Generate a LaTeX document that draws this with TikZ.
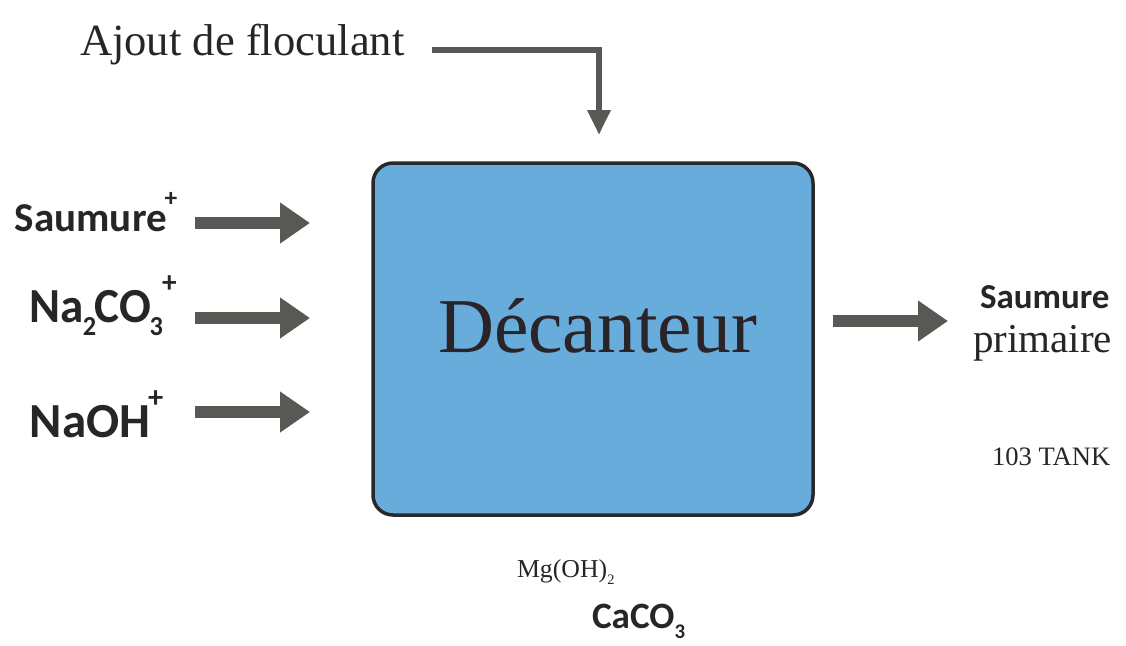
\documentclass[tikz,border=0pt]{standalone}
\usepackage{fontspec}
\setmainfont{Liberation Serif}
\newfontfamily\lblsans{Carlito}
\usetikzlibrary{arrows.meta}
\definecolor{arrowgray}{RGB}{88,88,84}
\definecolor{boxblue}{RGB}{104,172,220}
\definecolor{boxedge}{RGB}{40,40,40}
\definecolor{txt}{RGB}{38,38,38}
\definecolor{dectxt}{RGB}{42,36,40}
\tikzset{
  lbl/.style={anchor=base west, inner sep=0pt, outer sep=0pt, text=txt},
  bigarrow/.style={draw=arrowgray, line width=6pt, -{Triangle[length=15pt,width=19.5pt]}, arrowgray},
  thinarrow/.style={draw=arrowgray, line width=3.25pt, -{Triangle[length=12.5pt,width=11pt]}, arrowgray},
  tankbox/.style={draw=boxedge, line width=1.75pt, fill=boxblue, rounded corners=10pt, inner sep=0pt}
}
\newcommand{\chemsup}[1]{\raisebox{0.6em}{\fontsize{0.62em}{0.62em}\selectfont #1}}
\newcommand{\chemsub}[1]{\raisebox{-0.28em}{\fontsize{0.56em}{0.56em}\selectfont #1}}
\begin{document}
\begin{tikzpicture}[x=0.5pt,y=-0.5pt]
\useasboundingbox (0,0) rectangle (1126,645);
% main box
\node[tankbox, minimum width=220pt, minimum height=176pt] (box) at (593,339) {};
\node[lbl, text=dectxt] (dec) at (438,352) {\fontsize{38.8pt}{40pt}\selectfont Décanteur};
% top input
\node[lbl] (floc) at (80,55) {\fontsize{22.3pt}{24pt}\selectfont Ajout de floculant};
\coordinate (f0) at (432,50);
\coordinate (f1) at (599,50);
\coordinate (f2) at (599,135);
\draw[thinarrow] (f0) -- (f1) -- (f2);
% left inputs
\node[lbl] (sau) at (15,231) {\lblsans\bfseries\fontsize{20.5pt}{22pt}\selectfont Saumure\kern-0.05em\chemsup{+}};
\node[lbl] (naco) at (30,322) {\lblsans\bfseries\fontsize{24.5pt}{26pt}\selectfont\scalebox{0.96}[1]{Na\kern-0.03em\chemsub{2}\kern-0.03em CO\kern-0.03em\chemsub{3}\kern-0.02em\chemsup{+}}};
\node[lbl] (naoh) at (30,437) {\lblsans\bfseries\fontsize{24.5pt}{26pt}\selectfont NaOH\kern-0.05em\chemsup{+}};
\coordinate (a1s) at (195,223); \coordinate (a1e) at (310,223);
\coordinate (a2s) at (195,318); \coordinate (a2e) at (310,318);
\coordinate (a3s) at (195,412); \coordinate (a3e) at (310,412);
\draw[bigarrow] (a1s) -- (a1e);
\draw[bigarrow] (a2s) -- (a2e);
\draw[bigarrow] (a3s) -- (a3e);
% output
\coordinate (o1s) at (833,321); \coordinate (o1e) at (948,321);
\draw[bigarrow] (o1s) -- (o1e);
\node[lbl] (sp1) at (980,308) {\lblsans\bfseries\fontsize{17.5pt}{19pt}\selectfont Saumure};
\node[lbl] (sp2) at (973,352) {\fontsize{20.5pt}{22pt}\selectfont primaire};
\node[lbl] (tank) at (992,465) {\fontsize{13.3pt}{15pt}\selectfont 103 TANK};
% bottom outputs
\node[lbl] (mg) at (517,577) {\fontsize{12.9pt}{14pt}\selectfont Mg(OH)\chemsub{2}};
\node[lbl] (caco) at (592,628) {\lblsans\bfseries\fontsize{18.6pt}{20pt}\selectfont CaCO\chemsub{3}};
\end{tikzpicture}
\end{document}
